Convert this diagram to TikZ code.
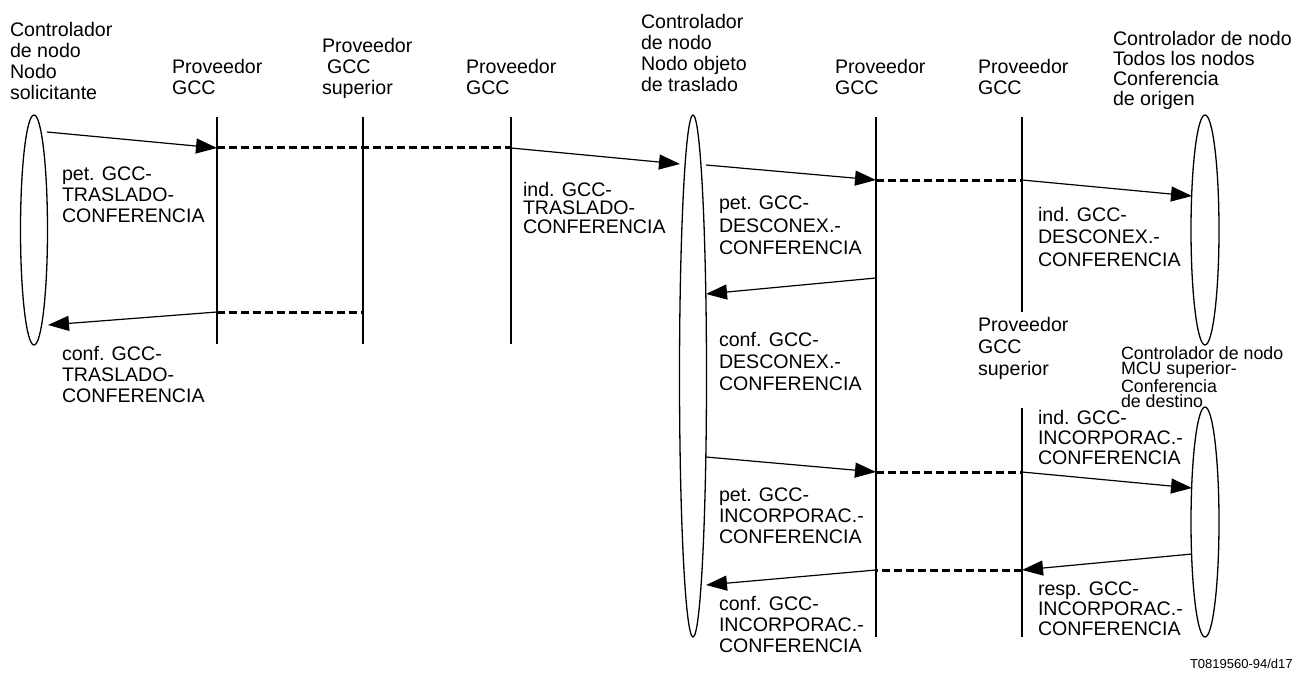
\documentclass[tikz,border=0pt]{standalone}
\usepackage{fontspec}
\setmainfont{Liberation Sans}
\usetikzlibrary{shapes.geometric,arrows.meta}

\begin{document}
\begin{tikzpicture}[x=1pt,y=-1pt,
		every node/.style={inner sep=0pt,outer sep=0pt},
		lbl/.style={anchor=north west,align=left,font=\fontsize{19.6}{21}\selectfont},
		ctrl/.style={ellipse,draw,line width=1.3pt,minimum width=27pt},
		life/.style={line width=2pt},
		msg/.style={line width=1.2pt,-{Triangle[length=21pt,width=15pt]}},
		relay/.style={line width=3pt,dash pattern=on 8pt off 4pt}]
	\useasboundingbox (0,0) rectangle (1298,674);

	% headings
	\node[lbl] (reqhd) at (10,22) {Controlador\\de nodo\\Nodo\\solicitante};
	\node[lbl] (g1hd) at (172,59) {Proveedor\\GCC};
	\node[lbl] (sp1hd) at (322,38) {Proveedor\\\hspace*{5pt}GCC\\superior};
	\node[lbl] (g2hd) at (466,59) {Proveedor\\GCC};
	\node[lbl] (movhd) at (641,14) {Controlador\\de nodo\\Nodo objeto\\de traslado};
	\node[lbl] (g3hd) at (835,59) {Proveedor\\GCC};
	\node[lbl] (g4hd) at (978,59) {Proveedor\\GCC};
	\node[lbl,font=\fontsize{19.6}{20}\selectfont] (orighd) at (1113,31) {Controlador de nodo\\Todos los nodos\\Conferencia\\de origen};
	\node[lbl,font=\fontsize{19.6}{22}\selectfont] (sp2hd) at (978,317) {Proveedor\\GCC\\superior};
	\node[lbl,font=\fontsize{17.8}{15}\selectfont] (desthd) at (1121,347) {Controlador de nodo\\MCU superior-\\Conferencia\\de destino};

	% node controllers
	\node[ctrl,minimum height=230pt] (req) at (34,230) {};
	\node[ctrl,minimum height=522pt] (mov) at (693,376) {};
	\node[ctrl,minimum height=230pt,minimum width=28pt] (orig) at (1205,230) {};
	\node[ctrl,minimum height=230pt,minimum width=28pt] (dest) at (1205,522) {};

	% lifelines
	\coordinate (g1t) at (217,117);  \coordinate (g1b) at (217,344);
	\coordinate (sp1t) at (363,117); \coordinate (sp1b) at (363,344);
	\coordinate (g2t) at (511,117);  \coordinate (g2b) at (511,344);
	\coordinate (g3t) at (876,117);  \coordinate (g3b) at (876,637);
	\coordinate (g4t) at (1022,117); \coordinate (g4b) at (1022,312);
	\coordinate (sp2t) at (1022,408); \coordinate (sp2b) at (1022,637);
	\foreach \l in {g1,sp1,g2,g3,g4,sp2}
		\draw[life] (\l t) -- (\l b);

	% message points
	\coordinate (a1) at (47,132);   \coordinate (a2) at (217,148);
	\coordinate (a3) at (511,148);  \coordinate (a4) at (680,164);
	\coordinate (b1) at (706,165);  \coordinate (b2) at (876,180);
	\coordinate (b3) at (1022,180); \coordinate (b4) at (1192,196);
	\coordinate (c1) at (876,278);  \coordinate (c2) at (706,294);
	\coordinate (d1) at (217,312);  \coordinate (d2) at (48,325);
	\coordinate (d3) at (363,312);
	\coordinate (e1) at (706,457);  \coordinate (e2) at (876,472);
	\coordinate (e3) at (1022,472); \coordinate (e4) at (1192,488);
	\coordinate (f1) at (1192,554); \coordinate (f2) at (1022,570);
	\coordinate (f3) at (876,570);  \coordinate (f4) at (706,585);

	% messages
	\draw[msg] (a1) -- (a2);
	\draw[relay] (a2) -- (a3);
	\draw[msg] (a3) -- (a4);
	\draw[msg] (b1) -- (b2);
	\draw[relay] (b2) -- (b3);
	\draw[msg] (b3) -- (b4);
	\draw[msg] (c1) -- (c2);
	\draw[msg] (d1) -- (d2);
	\draw[relay] (d1) -- (d3);
	\draw[msg] (e1) -- (e2);
	\draw[relay] (e2) -- (e3);
	\draw[msg] (e3) -- (e4);
	\draw[msg] (f1) -- (f2);
	\draw[relay] (f2) -- (f3);
	\draw[msg] (f3) -- (f4);

	% primitive names
	\node[lbl] (petmove) at (62,167) {pet. GCC-\\TRASLADO-\\CONFERENCIA};
	\node[lbl] (confmove) at (62,346) {conf. GCC-\\TRASLADO-\\CONFERENCIA};
	\node[lbl,font=\fontsize{19.6}{18.5}\selectfont] (indmove) at (523,182) {ind. GCC-\\TRASLADO-\\CONFERENCIA};
	\node[lbl,font=\fontsize{19.6}{22.5}\selectfont] (petdisc) at (719,196) {pet. GCC-\\DESCONEX.-\\CONFERENCIA};
	\node[lbl,font=\fontsize{19.6}{22}\selectfont] (confdisc) at (719,332) {conf. GCC-\\DESCONEX.-\\CONFERENCIA};
	\node[lbl,font=\fontsize{19.6}{22.5}\selectfont] (inddisc) at (1038,207) {ind. GCC-\\DESCONEX.-\\CONFERENCIA};
	\node[lbl,font=\fontsize{19.6}{20}\selectfont] (indjoin) at (1038,410) {ind. GCC-\\INCORPORAC.-\\CONFERENCIA};
	\node[lbl] (petjoin) at (719,488) {pet. GCC-\\INCORPORAC.-\\CONFERENCIA};
	\node[lbl,font=\fontsize{19.6}{20}\selectfont] (respjoin) at (1038,582) {resp. GCC-\\INCORPORAC.-\\CONFERENCIA};
	\node[lbl] (confjoin) at (719,596) {conf. GCC-\\INCORPORAC.-\\CONFERENCIA};
	\node[lbl,font=\fontsize{13}{13}\selectfont] (figid) at (1190,659) {T0819560-94/d17};
\end{tikzpicture}
\end{document}
